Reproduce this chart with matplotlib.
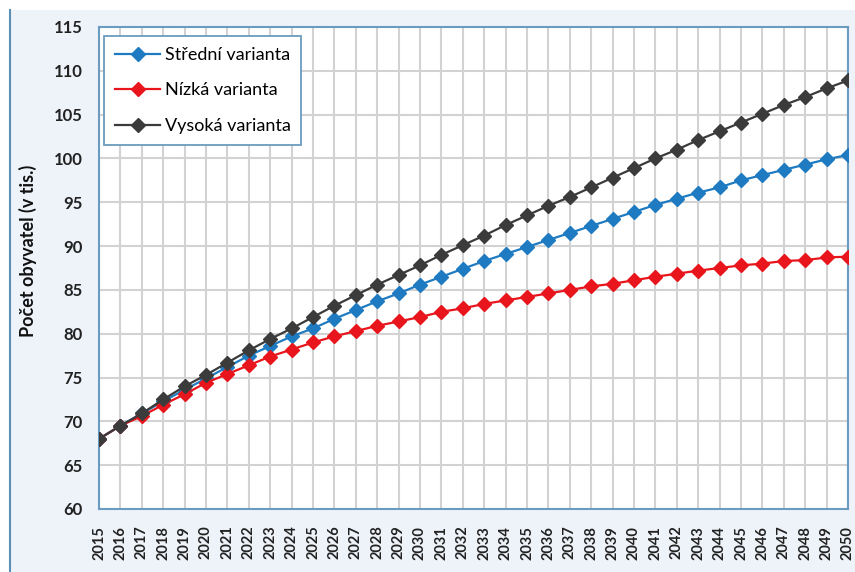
import matplotlib.pyplot as plt
from matplotlib.patches import Rectangle
from matplotlib.lines import Line2D

# --- data ---
years = list(range(2015, 2051))

stredni = [68.0, 69.5, 70.9, 72.3, 73.6, 74.9, 76.2, 77.5, 78.6, 79.7, 80.6, 81.7,
           82.7, 83.7, 84.6, 85.6, 86.5, 87.4, 88.3, 89.1, 89.9, 90.7, 91.5, 92.3,
           93.1, 93.9, 94.7, 95.4, 96.1, 96.7, 97.5, 98.1, 98.7, 99.3, 99.9, 100.4]
nizka = [68.0, 69.5, 70.6, 71.9, 73.1, 74.4, 75.4, 76.4, 77.4, 78.2, 79.0, 79.7,
         80.3, 80.9, 81.4, 81.9, 82.5, 82.9, 83.4, 83.8, 84.2, 84.6, 85.0, 85.4,
         85.7, 86.1, 86.5, 86.85, 87.2, 87.5, 87.8, 88.0, 88.3, 88.4, 88.7, 88.8]
vysoka = [68.0, 69.5, 70.9, 72.5, 74.0, 75.3, 76.7, 78.1, 79.4, 80.6, 81.9, 83.2,
          84.4, 85.6, 86.7, 87.8, 89.0, 90.1, 91.2, 92.4, 93.5, 94.6, 95.6, 96.7,
          97.8, 98.9, 100.0, 101.0, 102.1, 103.1, 104.1, 105.1, 106.1, 107.0, 108.0, 108.9]

labels = ["Střední varianta", "Nízká varianta", "Vysoká varianta"]
colors = ["#1f7bc1", "#e8161c", "#3b3b3b"]
yticks = list(range(60, 116, 5))

plt.rcParams['font.family'] = ['Lato', 'DejaVu Sans']

fig = plt.figure(figsize=(8.55, 5.72), dpi=100, facecolor="white")

# light frame background, like the source document
fig.patches.append(Rectangle((10 / 855, 0), 1, 1 - 10 / 572, transform=fig.transFigure,
                             facecolor="#eef3f9", edgecolor="none", zorder=-10))
fig.lines.append(Line2D([10 / 855, 10 / 855], [0, 1 - 10 / 572], transform=fig.transFigure,
                        color="#5b8fb5", lw=1.5, zorder=-5))

ax = fig.add_axes([99 / 855, 1 - 509 / 572, 749 / 855, 482 / 572])
ax.set_zorder(1)
ax.set_facecolor("white")

for vals, lab, col in zip([stredni, nizka, vysoka], labels, colors):
    ax.plot(years, vals, color=col, lw=1.6, marker="D", markersize=7,
            markeredgecolor=col, label=lab, zorder=3)

ax.set_xlim(2015, 2050)
ax.set_ylim(60, 115)
ax.set_yticks(yticks)
ax.set_xticks(years)
ax.set_xticklabels([str(y) for y in years], rotation=90, fontsize=10.5, fontweight="bold",
                   color="#222222")
ax.set_yticklabels([str(v) for v in yticks], fontsize=12, fontweight="bold", color="#222222")
ax.tick_params(axis="y", length=0, pad=12)
ax.tick_params(axis="x", length=0, pad=12)
ax.grid(True, color="#d2d2d2", lw=1.5, zorder=0)
ax.set_axisbelow(True)

for s in ax.spines.values():
    s.set_color("#6b9cbf")
    s.set_linewidth(1.5)

fig.text(28 / 855, 1 - 251 / 572, "Počet obyvatel (v tis.)", rotation=90, ha="center",
         va="center", fontsize=13, fontweight="bold", color="#111111")

leg = ax.legend(loc="upper left", bbox_to_anchor=(0.007, 0.981), borderaxespad=0,
                fontsize=13, handlelength=2.5, handletextpad=0.25, labelspacing=1.08,
                borderpad=0.6, fancybox=False, framealpha=1)
leg.get_frame().set_edgecolor("#6b9cbf")
leg.get_frame().set_linewidth(1.3)

fig.savefig("out.png", dpi=100, facecolor=fig.get_facecolor())
